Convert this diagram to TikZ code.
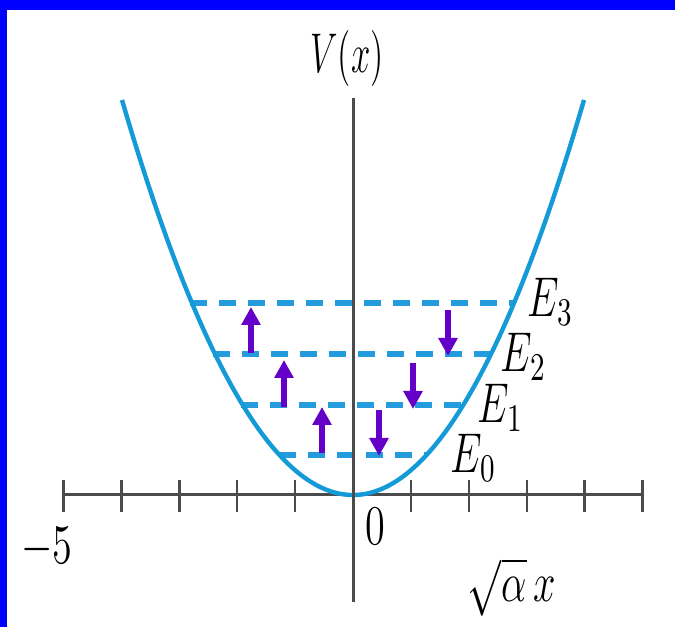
\documentclass[tikz,border=0pt]{standalone}
\usepackage{fix-cm}
\usepackage{graphicx}
\usetikzlibrary{arrows.meta}
\definecolor{pblue}{RGB}{20,155,215}
\definecolor{dblue}{RGB}{35,155,220}
\definecolor{purp}{RGB}{100,0,200}
\definecolor{axgray}{RGB}{75,75,75}
\definecolor{frameblue}{RGB}{0,0,255}
\newcommand{\lbl}[1]{\scalebox{0.72}[1]{\fontsize{14}{16}\selectfont #1}}
\newcommand{\lblv}[1]{\scalebox{0.62}[1]{\fontsize{14}{16}\selectfont #1}}
\begin{document}
\begin{tikzpicture}[x=0.25pt,y=-0.25pt,
  axis/.style={draw=axgray,line width=0.75pt},
  tickmark/.style={draw=axgray,line width=0.6pt},
  curve/.style={draw=pblue,line width=1.1pt},
  level/.style={draw=dblue,line width=1.4pt,dash pattern=on 4.25pt off 3pt},
  trans/.style={draw=purp,line width=1.4pt,-{Triangle[length=4.5pt,width=4.6pt]}},
  lab/.style={inner sep=0pt,anchor=base},
  labw/.style={inner sep=0pt,anchor=base west}]
\useasboundingbox (0,0) rectangle (675,627);
\fill[white] (0,0) rectangle (675,627);
\fill[frameblue] (0,0) rectangle (675,10);
\fill[frameblue] (0,0) rectangle (7,627);

% axes
\coordinate (xl) at (62,495);
\coordinate (xr) at (641,495);
\coordinate (yt) at (353,98);
\coordinate (yb) at (353,602);
\draw[axis] (xl) -- (xr);
\foreach \k in {-5,...,5} \draw[tickmark] ({353+57.9*\k},480) -- ({353+57.9*\k},512);

% energy levels
\coordinate (e3l) at (190,303); \coordinate (e3r) at (514,303);
\coordinate (e2l) at (213,354); \coordinate (e2r) at (490,354);
\coordinate (e1l) at (241,405); \coordinate (e1r) at (463,405);
\coordinate (e0l) at (279,455); \coordinate (e0r) at (426,455);
\draw[level] (e3l) -- (e3r);
\draw[level] (e2l) -- (e2r);
\draw[level] (e1l) -- (e1r);
\draw[level] (e0l) -- (e0r);

% parabola
\coordinate (pl) at (122,100);
\coordinate (pr) at (584,100);
\draw[curve] (pl) .. controls (276,626.7) and (430,626.7) .. (pr);

\draw[axis] (yt) -- (yb);

% transitions
\coordinate (u1a) at (251,353); \coordinate (u1b) at (251,307);
\coordinate (u2a) at (284,407); \coordinate (u2b) at (284,360);
\coordinate (u3a) at (322,453); \coordinate (u3b) at (322,407);
\coordinate (d1a) at (448,310); \coordinate (d1b) at (448,356);
\coordinate (d2a) at (413,363); \coordinate (d2b) at (413,409);
\coordinate (d3a) at (379,410); \coordinate (d3b) at (379,456);
\draw[trans] (u1a) -- (u1b);
\draw[trans] (u2a) -- (u2b);
\draw[trans] (u3a) -- (u3b);
\draw[trans] (d1a) -- (d1b);
\draw[trans] (d2a) -- (d2b);
\draw[trans] (d3a) -- (d3b);

% labels
\node[lab] (vlab) at (347,73) {\lblv{$V(x)$}};
\node[labw] (E3) at (527,317) {\lbl{$E_3$}};
\node[labw] (E2) at (500,372) {\lbl{$E_2$}};
\node[labw] (E1) at (477,423) {\lbl{$E_1$}};
\node[labw] (E0) at (450,473) {\lbl{$E_0$}};
\node[lab] (zero) at (375,545) {\lbl{$0$}};
\node[lab] (mfive) at (47,564) {\lbl{$-5$}};
\node[lab] (xlab) at (512,602) {\lbl{$\sqrt{\alpha}\,x$}};
\end{tikzpicture}
\end{document}
